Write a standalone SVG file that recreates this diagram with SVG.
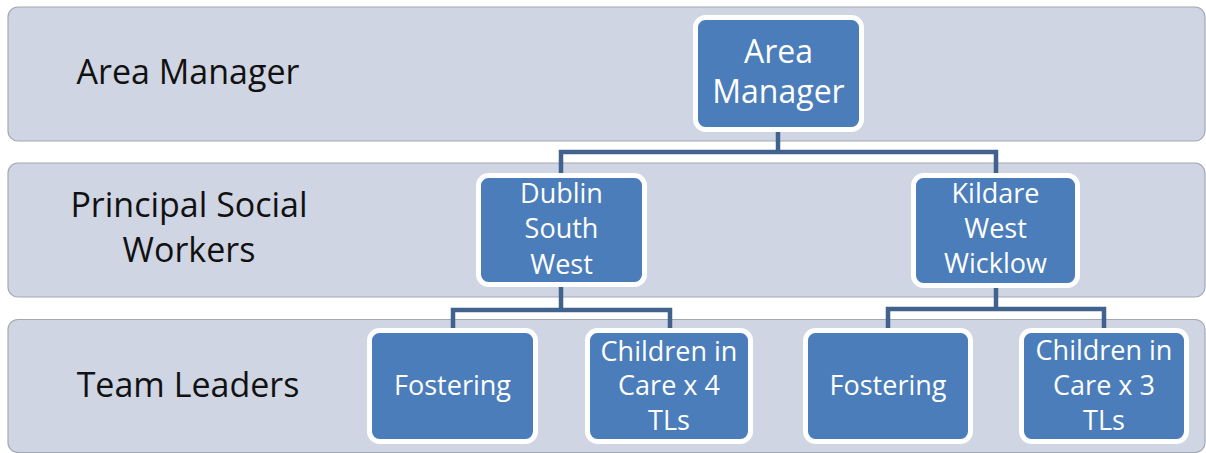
<svg xmlns="http://www.w3.org/2000/svg" width="1206" height="453" viewBox="0 0 1206 453">
<style>
.band{fill:#cfd5e3;stroke:#a3a8b0;stroke-width:1.2}
.node{fill:#4a7dba;stroke:#ffffff;stroke-width:5}
.conn{fill:none;stroke:#41628c;stroke-width:4.5;stroke-linejoin:miter}
.lbl{font-family:"Open Sans","Liberation Sans",sans-serif;font-size:34px;fill:#111111;text-anchor:middle}
.nt{font-family:"Open Sans","Liberation Sans",sans-serif;font-size:27px;fill:#ffffff;text-anchor:middle}
.nt32{font-size:32px}
</style>
<rect width="1206" height="453" fill="#ffffff"/>
<g id="bands">
<rect class="band" x="8" y="7" width="1197" height="134" rx="10"/>
<rect class="band" x="8" y="163" width="1197" height="134" rx="10"/>
<rect class="band" x="8" y="319.5" width="1197" height="133" rx="10"/>
<text class="lbl" x="188" y="84">Area Manager</text>
<text class="lbl" x="189" y="217">Principal Social</text>
<text class="lbl" x="189" y="262">Workers</text>
<text class="lbl" x="188" y="397">Team Leaders</text>
</g>
<g id="connectors">
<path class="conn" d="M778,132 V152"/>
<path class="conn" d="M561,175 V152 H996 V175"/>
<path class="conn" d="M561,287 V310"/>
<path class="conn" d="M453,330 V310 H670 V330"/>
<path class="conn" d="M996,288 V309"/>
<path class="conn" d="M888,330 V309 H1104 V330"/>
</g>
<g id="area-manager">
<rect class="node" x="695.5" y="17.5" width="166" height="112" rx="10"/>
<text class="nt nt32" x="778.5" y="63">Area</text>
<text class="nt nt32" x="778.5" y="103">Manager</text>
</g>
<g id="dublin-south-west">
<rect class="node" x="478.5" y="175.5" width="166" height="109" rx="10"/>
<text class="nt" x="561.5" y="203">Dublin</text>
<text class="nt" x="561.5" y="238">South</text>
<text class="nt" x="561.5" y="274">West</text>
</g>
<g id="kildare-west-wicklow">
<rect class="node" x="913.5" y="175.5" width="164" height="110" rx="10"/>
<text class="nt" x="995.5" y="203">Kildare</text>
<text class="nt" x="995.5" y="238">West</text>
<text class="nt" x="995.5" y="273">Wicklow</text>
</g>
<g id="fostering-1">
<rect class="node" x="369.5" y="330.5" width="166" height="111" rx="10"/>
<text class="nt" x="452.5" y="395">Fostering</text>
</g>
<g id="children-in-care-4">
<rect class="node" x="587.5" y="330.5" width="163" height="111" rx="10"/>
<text class="nt" x="669" y="361">Children in</text>
<text class="nt" x="669" y="395">Care x 4</text>
<text class="nt" x="669" y="430">TLs</text>
</g>
<g id="fostering-2">
<rect class="node" x="805.5" y="330.5" width="165" height="111" rx="10"/>
<text class="nt" x="888" y="395">Fostering</text>
</g>
<g id="children-in-care-3">
<rect class="node" x="1021.5" y="330.5" width="165" height="111" rx="10"/>
<text class="nt" x="1104" y="360">Children in</text>
<text class="nt" x="1104" y="395">Care x 3</text>
<text class="nt" x="1104" y="430">TLs</text>
</g>
</svg>
